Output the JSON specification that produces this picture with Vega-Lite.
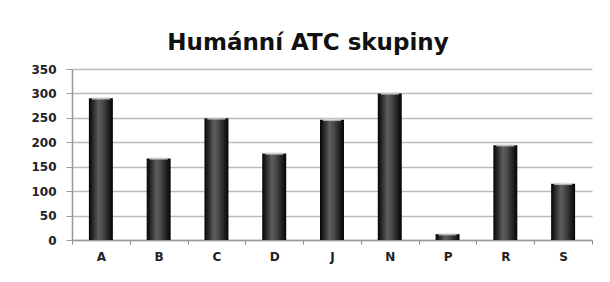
{
  "$schema": "https://vega.github.io/schema/vega-lite/v6.json",
  "width": 520,
  "height": 171,
  "autosize": {"type": "none"},
  "padding": {"left": 72, "top": 69, "right": 18, "bottom": 42},
  "background": "white",
  "title": {
    "text": "Humánní ATC skupiny",
    "font": "DejaVu Sans",
    "fontWeight": "bold",
    "fontSize": 23,
    "color": "#111111",
    "anchor": "middle",
    "dx": -24,
    "dy": 27,
    "baseline": "alphabetic",
    "offset": 17
  },
  "data": {
    "values": [
      {"skupina": "A", "pocet": 290},
      {"skupina": "B", "pocet": 167},
      {"skupina": "C", "pocet": 249},
      {"skupina": "D", "pocet": 177},
      {"skupina": "J", "pocet": 246},
      {"skupina": "N", "pocet": 300},
      {"skupina": "P", "pocet": 12},
      {"skupina": "R", "pocet": 194},
      {"skupina": "S", "pocet": 115}
    ]
  },
  "encoding": {
    "x": {
      "field": "skupina",
      "type": "nominal",
      "sort": null,
      "scale": {"paddingInner": 0, "paddingOuter": 0},
      "axis": {
        "title": null,
        "labelAngle": 0,
        "labelFont": "DejaVu Sans",
        "labelFontWeight": "bold",
        "labelFontSize": 12,
        "labelColor": "#222222",
        "labelPadding": 7,
        "tickBand": "extent",
        "tickSize": 4,
        "tickColor": "#888888",
        "domainColor": "#999999",
        "domainWidth": 1.5,
        "grid": false
      }
    },
    "y": {
      "field": "pocet",
      "type": "quantitative",
      "scale": {"domain": [0, 350], "nice": false},
      "axis": {
        "title": null,
        "values": [0, 50, 100, 150, 200, 250, 300, 350],
        "labelFont": "DejaVu Sans",
        "labelFontWeight": "bold",
        "labelFontSize": 12,
        "labelColor": "#222222",
        "labelPadding": 10,
        "tickSize": 6,
        "tickColor": "#999999",
        "domainColor": "#999999",
        "domainWidth": 1.5,
        "gridColor": "#bbbbbb",
        "gridWidth": 1.5
      }
    }
  },
  "layer": [
    {
      "mark": {
        "type": "bar",
        "width": {"band": 0.415},
        "color": {
          "gradient": "linear",
          "x1": 0, "x2": 1, "y1": 0, "y2": 0,
          "stops": [
            {"offset": 0, "color": "#050505"},
            {"offset": 0.12, "color": "#1e1e1e"},
            {"offset": 0.4, "color": "#5e5e5e"},
            {"offset": 0.55, "color": "#4e4e4e"},
            {"offset": 0.85, "color": "#1c1c1c"},
            {"offset": 1, "color": "#050505"}
          ]
        }
      }
    },
    {
      "mark": {
        "type": "tick",
        "orient": "horizontal",
        "size": 18,
        "thickness": 2.5,
        "color": "#dddddd"
      }
    }
  ],
  "config": {"view": {"stroke": null}}
}
